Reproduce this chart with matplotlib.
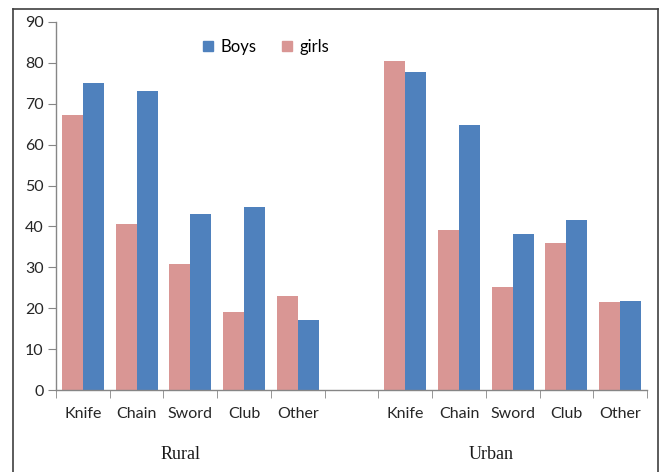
import matplotlib
matplotlib.use("Agg")
import matplotlib.pyplot as plt
from matplotlib.lines import Line2D
from matplotlib.patches import Patch
import numpy as np

weapons = ["Knife", "Chain", "Sword", "Club", "Other"]
groups = ["Rural", "Urban"]
rural_girls = [67.2, 40.7, 30.9, 19.1, 23.1]
rural_boys = [75.1, 73.2, 43.0, 44.7, 17.0]
urban_girls = [80.4, 39.2, 25.1, 35.9, 21.6]
urban_boys = [77.7, 64.8, 38.1, 41.5, 21.8]
y_ticks = list(range(0, 91, 10))

blue = "#4F81BD"
pink = "#D99694"
axis_grey = "#868686"
sans = ["Lato", "DejaVu Sans"]

fig = plt.figure(figsize=(6.61, 4.72), dpi=100)
ax = fig.add_axes([56 / 661, 1 - 390 / 472, (647 - 56) / 661, (390 - 22) / 472])

n = len(weapons)
rural_x = np.arange(n)
urban_x = np.arange(n) + n + 1
w = 0.39

for xs, girls, boys in ((rural_x, rural_girls, rural_boys), (urban_x, urban_girls, urban_boys)):
    ax.bar(xs - w / 2, girls, width=w, color=pink)
    ax.bar(xs + w / 2, boys, width=w, color=blue)

ax.set_xlim(-0.5, 2 * n + 0.5)
ax.set_ylim(0, 90)
ax.set_yticks(y_ticks)
ax.set_yticklabels([str(v) for v in y_ticks], fontfamily=sans, fontsize=11.5, color="#262626")

ax.set_xticks(np.concatenate([rural_x, urban_x]))
ax.set_xticklabels(weapons + weapons, fontfamily=sans, fontsize=11.5, color="#262626")
ax.tick_params(axis="x", which="major", length=0, pad=12)
ax.set_xticks(np.arange(-0.5, 2 * n + 1, 1.0), minor=True)
ax.tick_params(axis="x", which="minor", length=6, color=axis_grey, direction="out")
ax.tick_params(axis="y", length=6, color=axis_grey, direction="out", pad=3)

for side in ("top", "right"):
    ax.spines[side].set_visible(False)
for side in ("left", "bottom"):
    ax.spines[side].set_color(axis_grey)
    ax.spines[side].set_linewidth(1.0)

# group captions under each block of categories
for label, xs, shift in zip(groups, (rural_x, urban_x), (-0.18, -0.4)):
    ax.text(xs.mean() + shift, -15.8, label, ha="center", va="center",
            fontfamily=["Liberation Serif", "DejaVu Serif"], fontsize=13, color="#1a1a1a")

handles = [Patch(color=blue, label="Boys"), Patch(color=pink, label="girls")]
fig.legend(handles=handles, loc="center left", bbox_to_anchor=(188 / 661, 1 - 47 / 472),
           ncol=2, frameon=False, handlelength=0.6, handleheight=0.6, handletextpad=0.45,
           columnspacing=1.5, prop={"family": sans, "size": 12})

# outer frame (open at the bottom)
frame_kw = dict(color="#404040", linewidth=1.2, transform=fig.transFigure)
x0, x1, yt = 13 / 661, 658 / 661, 1 - 9 / 472
fig.add_artist(Line2D([x0, x0], [0, yt], **frame_kw))
fig.add_artist(Line2D([x0, x1], [yt, yt], **frame_kw))
fig.add_artist(Line2D([x1, x1], [yt, 0], **frame_kw))

fig.savefig("out.png", dpi=100)
